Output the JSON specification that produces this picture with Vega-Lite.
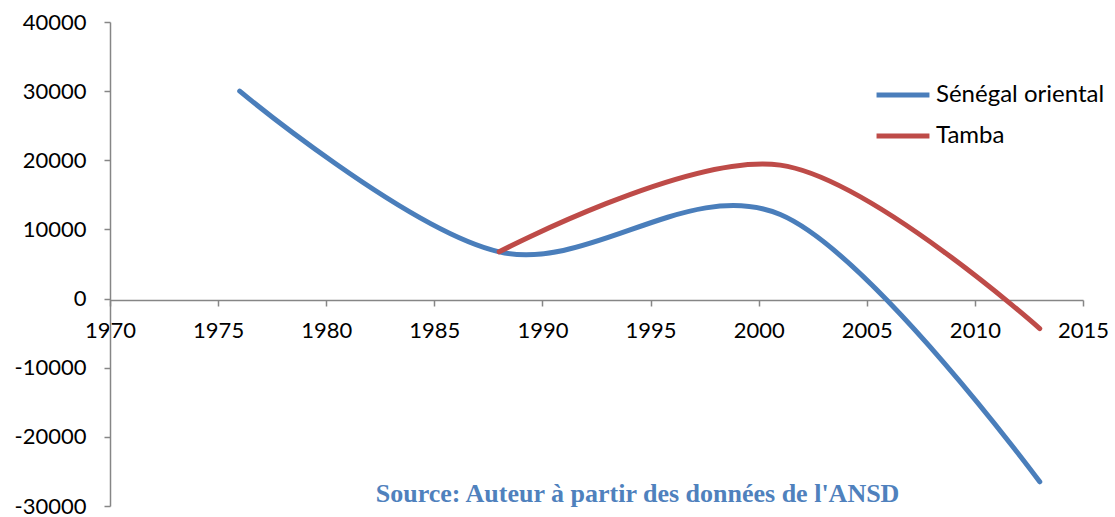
{
  "$schema": "https://vega.github.io/schema/vega-lite/v6.json",
  "width": 973,
  "height": 484,
  "autosize": {"type": "none"},
  "padding": {"left": 110, "top": 22, "right": 32, "bottom": 11},
  "background": "white",
  "config": {"view": {"stroke": null}, "font": "Lato"},
  "datasets": {
    "series": [
      {"annee": 1976, "valeur": 30000, "zone": "Sénégal oriental"},
      {"annee": 1988, "valeur": 6760, "zone": "Sénégal oriental"},
      {"annee": 2001, "valeur": 12150, "zone": "Sénégal oriental"},
      {"annee": 2013, "valeur": -26500, "zone": "Sénégal oriental"},
      {"annee": 1988, "valeur": 6760, "zone": "Tamba"},
      {"annee": 2001, "valeur": 19300, "zone": "Tamba"},
      {"annee": 2013, "valeur": -4350, "zone": "Tamba"}
    ],
    "source": [
      {"annee": 1994.4, "valeur": -28200, "texte": "Source: Auteur à partir des données de l'ANSD"}
    ]
  },
  "layer": [
    {
      "data": {"name": "series"},
      "mark": {"type": "line", "interpolate": "cardinal", "tension": 0, "strokeWidth": 5, "strokeCap": "round"},
      "encoding": {
        "x": {
          "field": "annee", "type": "quantitative",
          "scale": {"domain": [1970, 2015], "nice": false, "zero": false},
          "axis": {
            "title": null, "values": [1970, 1975, 1980, 1985, 1990, 1995, 2000, 2005, 2010, 2015],
            "labelExpr": "'' + datum.value", "grid": false, "offset": -206,
            "domainColor": "#868686", "domainWidth": 1.5, "tickColor": "#868686", "tickWidth": 1.5, "tickSize": 6,
            "labelFont": "Lato", "labelFontSize": 22, "labelColor": "#000000", "labelPadding": 14,
            "labelFlush": false, "labelOverlap": false
          }
        },
        "y": {
          "field": "valeur", "type": "quantitative",
          "scale": {"domain": [-30000, 40000], "nice": false},
          "axis": {
            "title": null, "values": [-30000, -20000, -10000, 0, 10000, 20000, 30000, 40000],
            "labelExpr": "'' + datum.value", "grid": false,
            "domainColor": "#868686", "domainWidth": 1.5, "tickColor": "#868686", "tickWidth": 1.5, "tickSize": 6,
            "labelFont": "Lato", "labelFontSize": 22, "labelColor": "#000000", "labelPadding": 18,
            "labelFlush": false, "labelOverlap": false
          }
        },
        "color": {
          "field": "zone", "type": "nominal",
          "scale": {"domain": ["Sénégal oriental", "Tamba"], "range": ["#4A7EBB", "#BE4B48"]},
          "legend": {
            "title": null, "orient": "none", "legendX": 764, "legendY": 44,
            "symbolType": "stroke", "symbolStrokeWidth": 5, "symbolSize": 2800,
            "labelFont": "Lato", "labelFontSize": 24, "labelColor": "#000000", "labelLimit": 400,
            "rowPadding": -13, "labelOffset": 4
          }
        }
      }
    },
    {
      "data": {"name": "source"},
      "mark": {"type": "text", "font": "Liberation Serif", "fontWeight": "bold", "fontSize": 26, "color": "#4F81BD", "align": "center", "baseline": "middle"},
      "encoding": {
        "x": {"field": "annee", "type": "quantitative"},
        "y": {"field": "valeur", "type": "quantitative"},
        "text": {"field": "texte"}
      }
    }
  ]
}
